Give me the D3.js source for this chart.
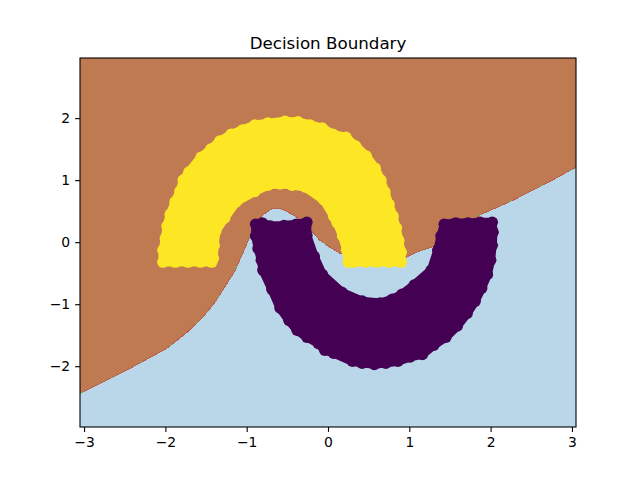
<!DOCTYPE html>
<html>
<head>
<meta charset="utf-8">
<script src="https://cdn.jsdelivr.net/npm/d3@7"></script>
<style>
  html, body { margin: 0; padding: 0; background: #fff; }
  svg { display: block; }
  text { font-family: "DejaVu Sans", sans-serif; fill: #000; }
</style>
</head>
<body>
<div id="chart"></div>
<script>
const chartTitle = "Decision Boundary";
const xTicks = [-3, -2, -1, 0, 1, 2, 3];
const yTicks = [-2, -1, 0, 1, 2];

// decision boundary, brown above it, blue below
const boundaryX = [-3.05, -2.47, -1.98, -1.73, -1.54, -1.39, -1.24, -1.14, -1.06, -0.98, -0.90, -0.80, -0.68, -0.55, -0.38, -0.18, -0.10, 0.02, 0.15, 0.97, 1.09, 1.28, 1.87, 2.28, 2.69, 3.05];
const boundaryY = [-2.44, -2.06, -1.71, -1.45, -1.21, -0.97, -0.66, -0.45, -0.21, 0.03, 0.27, 0.44, 0.55, 0.53, 0.40, 0.15, 0.03, -0.08, -0.18, -0.24, -0.16, -0.08, 0.44, 0.68, 0.95, 1.21];

// class 1 (yellow moon), points around the visible rim in order
const yellowX = [-2.03, -2.03, -2.00, -1.98, -1.94, -1.88, -1.82, -1.78, -1.71, -1.56, -1.44, -1.33, -1.19, -1.05, -0.90, -0.74, -0.53, -0.37, -0.22, -0.07, 0.06, 0.22, 0.34, 0.47, 0.58, 0.65, 0.70, 0.75, 0.80, 0.84, 0.87, 0.90, 0.90, 0.75, 0.60, 0.46, 0.31, 0.25, 0.23, 0.18, 0.11, 0.07, -0.05, -0.28, -0.44, -0.59, -0.74, -0.90, -1.13, -1.27, -1.38, -1.40, -1.41, -1.43, -1.57, -1.72, -1.88];
const yellowY = [-0.32, -0.13, 0.06, 0.26, 0.45, 0.65, 0.82, 1.00, 1.13, 1.37, 1.50, 1.63, 1.74, 1.81, 1.89, 1.92, 1.95, 1.94, 1.89, 1.84, 1.74, 1.69, 1.55, 1.39, 1.19, 1.00, 0.81, 0.61, 0.42, 0.23, 0.03, -0.16, -0.32, -0.32, -0.32, -0.32, -0.32, -0.32, -0.13, 0.10, 0.32, 0.42, 0.68, 0.89, 0.92, 0.94, 0.92, 0.82, 0.65, 0.39, 0.18, -0.05, -0.26, -0.32, -0.32, -0.32, -0.32];

// class 0 (purple moon), same idea
const purpleX = [-0.89, -0.89, -0.86, -0.82, -0.80, -0.69, -0.59, -0.48, -0.38, -0.26, -0.12, -0.04, 0.07, 0.30, 0.42, 0.57, 0.71, 0.86, 1.01, 1.16, 1.30, 1.45, 1.59, 1.71, 1.81, 1.89, 1.96, 2.00, 2.02, 2.03, 2.02, 1.87, 1.72, 1.57, 1.43, 1.39, 1.35, 1.27, 1.06, 0.91, 0.79, 0.64, 0.42, 0.17, -0.07, -0.17, -0.26, -0.26, -0.39, -0.54, -0.71, -0.81];
const purpleY = [0.29, 0.10, -0.10, -0.29, -0.45, -0.76, -1.06, -1.26, -1.42, -1.53, -1.63, -1.74, -1.79, -1.92, -1.95, -1.97, -1.95, -1.92, -1.85, -1.81, -1.66, -1.53, -1.35, -1.15, -0.95, -0.74, -0.52, -0.29, -0.05, 0.16, 0.32, 0.32, 0.31, 0.31, 0.29, 0.10, -0.13, -0.45, -0.69, -0.84, -0.92, -0.98, -0.95, -0.81, -0.52, -0.23, 0.11, 0.32, 0.29, 0.27, 0.26, 0.31];

const width = 640, height = 480;
const margin = { top: 58, right: 64, bottom: 53, left: 80 };
const pointRadius = 5.8;

const x_scale = d3.scaleLinear()
  .domain([-3.05, 3.05])
  .range([margin.left, width - margin.right]);

const y_scale = d3.scaleLinear()
  .domain([-2.98, 2.97])
  .range([height - margin.bottom, margin.top]);

const svg = d3.select("#chart")
  .append("svg")
  .attr("width", width)
  .attr("height", height);

// blue class fills the axes
svg.append("rect")
  .attr("x", margin.left)
  .attr("y", margin.top)
  .attr("width", width - margin.left - margin.right)
  .attr("height", height - margin.top - margin.bottom)
  .attr("fill", "#b9d7e9");

// brown class is everything above the boundary
const region = d3.area()
  .x((d, i) => x_scale(boundaryX[i]))
  .y0((d, i) => y_scale(boundaryY[i]))
  .y1(y_scale(2.97));

svg.append("path")
  .attr("d", region(boundaryX))
  .attr("fill", "#bf7a52")
  .attr("shape-rendering", "crispEdges");

// the red/green fringe the contour leaves along the boundary
const edge = d3.line()
  .x((d, i) => x_scale(boundaryX[i]))
  .y((d, i) => y_scale(boundaryY[i]));

svg.append("path")
  .attr("d", edge(boundaryX))
  .attr("fill", "none")
  .attr("stroke", "#bb5f50")
  .attr("stroke-width", 1)
  .attr("shape-rendering", "crispEdges");

svg.append("path")
  .attr("d", edge(boundaryX))
  .attr("fill", "none")
  .attr("stroke", "#74a863")
  .attr("stroke-width", 1)
  .attr("stroke-dasharray", "3 31")
  .attr("shape-rendering", "crispEdges");

// the two moons: overplotted so heavily only the rim can be read,
// so the rim points also close up a solid body
function drawMoon(xs, ys, color) {
  const rim = xs.map((d, i) => [x_scale(d), y_scale(ys[i])]);

  svg.append("path")
    .attr("d", d3.line().curve(d3.curveLinearClosed)(rim))
    .attr("fill", color)
    .attr("stroke", color)
    .attr("stroke-width", pointRadius * 2 - 2.6)
    .attr("stroke-linejoin", "round");

  svg.append("g")
    .selectAll("circle")
    .data(xs)
    .join("circle")
    .attr("cx", d => x_scale(d))
    .attr("cy", (d, i) => y_scale(ys[i]))
    .attr("r", pointRadius)
    .attr("fill", color);
}

drawMoon(purpleX, purpleY, "#440154");
drawMoon(yellowX, yellowY, "#fde725");

const xAxis = svg.append("g")
  .attr("transform", `translate(0,${height - margin.bottom})`)
  .call(d3.axisBottom(x_scale).tickValues(xTicks).tickSize(4.9).tickPadding(5.6).tickFormat(d3.format("d")));

const yAxis = svg.append("g")
  .attr("transform", `translate(${margin.left},0)`)
  .call(d3.axisLeft(y_scale).tickValues(yTicks).tickSize(4.9).tickPadding(4.9).tickFormat(d3.format("d")));

[xAxis, yAxis].forEach(axis => {
  axis.select(".domain").remove();
  axis.selectAll("line").attr("stroke", "#000").attr("stroke-width", 1.1);
  axis.selectAll("text").style("font-size", "13.9px").style("font-family", "'DejaVu Sans', sans-serif").attr("fill", "#000");
});

// spines
svg.append("rect")
  .attr("x", margin.left)
  .attr("y", margin.top)
  .attr("width", width - margin.left - margin.right)
  .attr("height", height - margin.top - margin.bottom)
  .attr("fill", "none")
  .attr("stroke", "#000")
  .attr("stroke-width", 1.1);

svg.append("text")
  .attr("x", (margin.left + width - margin.right) / 2)
  .attr("y", 49)
  .attr("text-anchor", "middle")
  .style("font-size", "16.7px")
  .text(chartTitle);
</script>
</body>
</html>
